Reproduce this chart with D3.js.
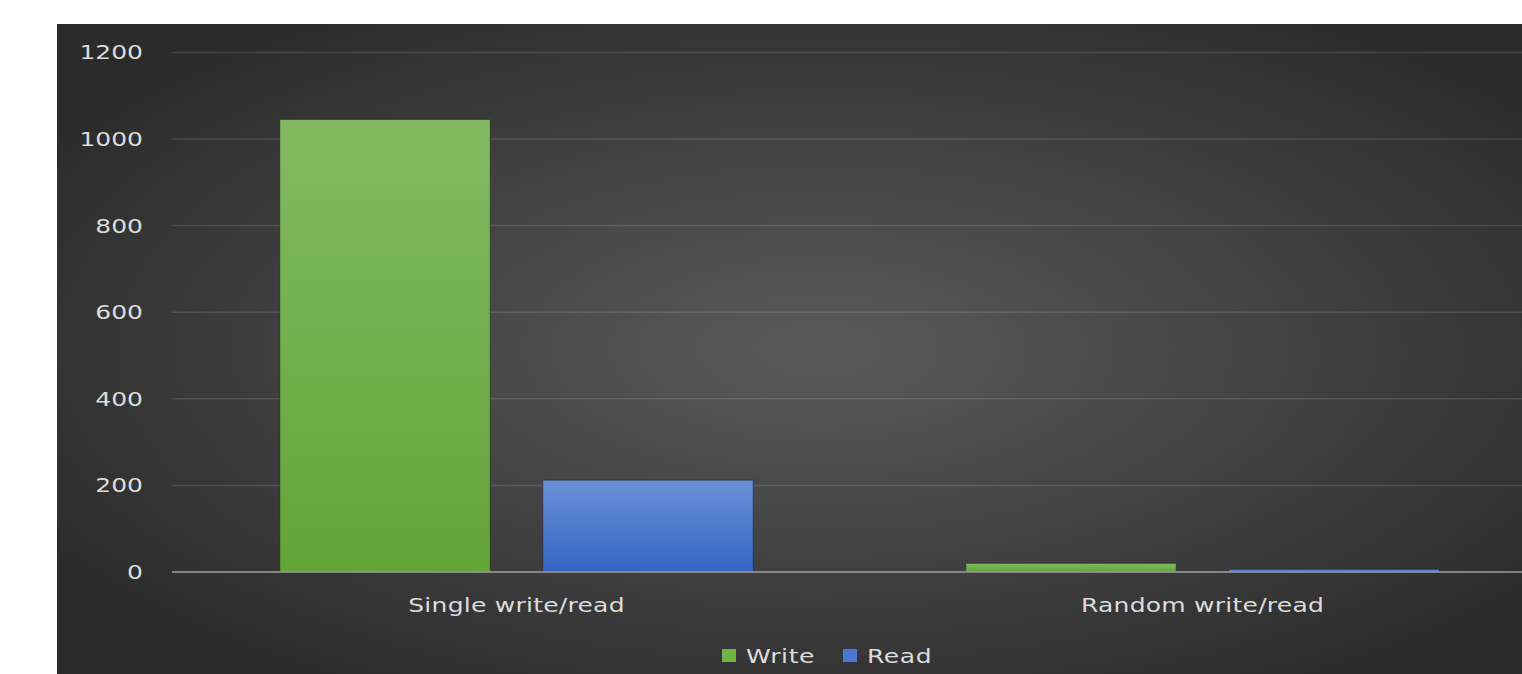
<!DOCTYPE html>
<html>
<head>
<meta charset="utf-8">
<script src="https://cdnjs.cloudflare.com/ajax/libs/d3/7.8.5/d3.min.js"></script>
<style>
  body { margin: 0; background: #fff; overflow: hidden; }
  text { font-family: "DejaVu Sans", sans-serif; fill: #dcdcdc; font-size: 20px; }
</style>
</head>
<body>
<div id="chart"></div>
<script>
var categories = ["Single write/read", "Random write/read"];
var seriesNames = ["Write", "Read"];
var writeValues = [1045, 20];
var readValues = [212, 6];
var yTicks = [0, 200, 400, 600, 800, 1000, 1200];
var seriesColors = {"Write": ["#82ba62", "#63a438"], "Read": ["#6a90d8", "#3565c2"]};
var legendColors = {"Write": "#6fb544", "Read": "#4a78d0"};

var W = 1522, H = 674;
var panel = {x: 57, y: 24, w: 1465, h: 650};
var plot = {left: 173.5, right: 1545.5, top: 52.4, bottom: 572};
var stretch = 1.25; // text in the picture is drawn wide

var svg = d3.select("#chart")
    .append("svg")
    .attr("width", W)
    .attr("height", H);

var defs = svg.append("defs");
var bg = defs.append("radialGradient")
    .attr("id", "bg")
    .attr("cx", 0.52).attr("cy", 0.5).attr("r", 0.62);
bg.append("stop").attr("offset", "0%").attr("stop-color", "#5a5a5a");
bg.append("stop").attr("offset", "100%").attr("stop-color", "#2b2b2b");

seriesNames.forEach(function (s) {
    var g = defs.append("linearGradient")
        .attr("id", "grad_" + s)
        .attr("x1", 0).attr("y1", 0).attr("x2", 0).attr("y2", 1);
    g.append("stop").attr("offset", "0%").attr("stop-color", seriesColors[s][0]);
    g.append("stop").attr("offset", "100%").attr("stop-color", seriesColors[s][1]);
});

svg.append("rect")
    .attr("x", panel.x).attr("y", panel.y)
    .attr("width", panel.w).attr("height", panel.h)
    .attr("fill", "url(#bg)");

var y = d3.scaleLinear().domain([0, 1200]).range([plot.bottom, plot.top]);

var x0 = d3.scaleBand()
    .domain(categories)
    .range([plot.left, plot.right])
    .paddingInner(0.31)
    .paddingOuter(0.155);

var x1 = d3.scaleBand()
    .domain(seriesNames)
    .range([0, x0.bandwidth()])
    .paddingInner(0.2);

function place(px, py) {
    return "translate(" + px + "," + py + ") scale(" + stretch + ",1)";
}

// gridlines
svg.append("g")
    .selectAll("line")
    .data(yTicks.filter(function (d) { return d > 0; }))
    .enter()
    .append("line")
    .attr("x1", 172).attr("x2", W)
    .attr("y1", function (d) { return y(d); })
    .attr("y2", function (d) { return y(d); })
    .attr("stroke", "rgba(255,255,255,0.12)")
    .attr("stroke-width", 1.5);

// y tick labels
svg.append("g")
    .selectAll("text")
    .data(yTicks)
    .enter()
    .append("text")
    .attr("transform", function (d) { return place(143, y(d)); })
    .attr("dy", "0.35em")
    .attr("text-anchor", "end")
    .text(function (d) { return d; });

// bars
var data = categories.map(function (c, i) {
    return {cat: c, vals: [{s: "Write", v: writeValues[i]}, {s: "Read", v: readValues[i]}]};
});

var groups = svg.append("g")
    .selectAll("g")
    .data(data)
    .enter()
    .append("g")
    .attr("transform", function (d) { return "translate(" + x0(d.cat) + ",0)"; });

groups.selectAll("rect")
    .data(function (d) { return d.vals; })
    .enter()
    .append("rect")
    .attr("x", function (d) { return x1(d.s); })
    .attr("y", function (d) { return y(d.v); })
    .attr("width", x1.bandwidth())
    .attr("height", function (d) { return y(0) - y(d.v); })
    .attr("fill", function (d) { return "url(#grad_" + d.s + ")"; })
    .attr("stroke", "rgba(0,0,0,0.35)")
    .attr("stroke-width", 1);

// zero axis
svg.append("line")
    .attr("x1", 172).attr("x2", W)
    .attr("y1", y(0)).attr("y2", y(0))
    .attr("stroke", "#a0a0a0")
    .attr("stroke-width", 1.5);

// category labels
svg.append("g")
    .selectAll("text")
    .data(categories)
    .enter()
    .append("text")
    .attr("transform", function (d) { return place(x0(d) + x0.bandwidth() / 2, 605); })
    .attr("dy", "0.35em")
    .attr("text-anchor", "middle")
    .style("letter-spacing", "0.2px")
    .text(function (d) { return d; });

// legend
var legendX = [722, 843];
var legend = svg.append("g")
    .selectAll("g")
    .data(seriesNames)
    .enter()
    .append("g")
    .attr("transform", function (d, i) { return "translate(" + legendX[i] + ",649)"; });

legend.append("rect")
    .attr("width", 14).attr("height", 13)
    .attr("fill", function (d) { return legendColors[d]; });

legend.append("text")
    .attr("transform", place(24, 7))
    .attr("dy", "0.35em")
    .style("letter-spacing", "0.5px")
    .text(function (d) { return d; });
</script>
</body>
</html>
